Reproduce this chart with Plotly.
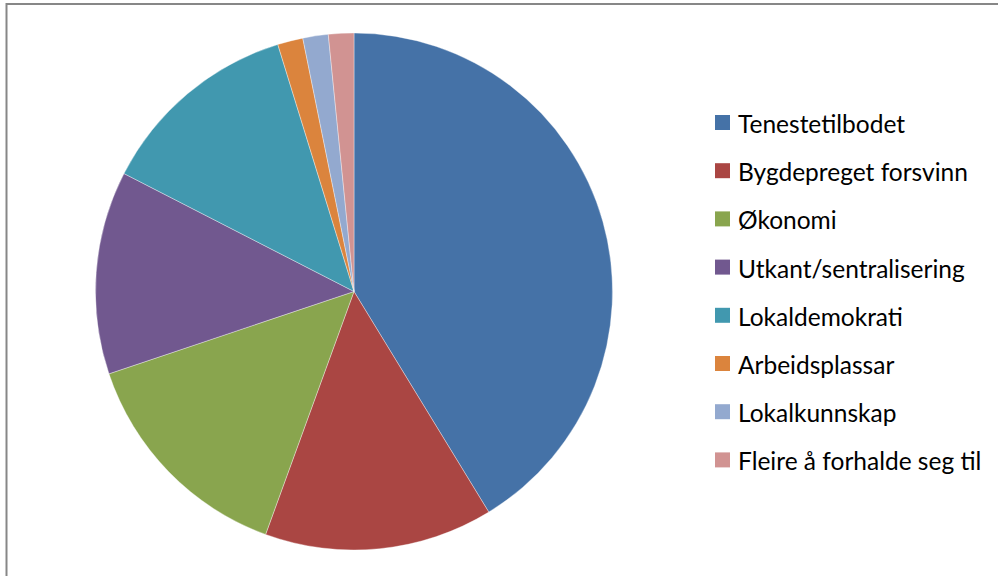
import plotly.graph_objects as go

labels = ["Tenestetilbodet", "Bygdepreget forsvinn", "Økonomi", "Utkant/sentralisering",
          "Lokaldemokrati", "Arbeidsplassar", "Lokalkunnskap", "Fleire å forhalde seg til"]
values = [26, 9, 9, 8, 8, 1, 1, 1]
colors = ["#4572A7", "#AA4643", "#89A54E", "#71588F", "#4198AF", "#DB843D", "#93A9CF", "#D19392"]

W, H = 998, 576
cx, cy, r = 354, 291.5, 258.5

fig = go.Figure(go.Pie(
    labels=labels, values=values, sort=False, direction="clockwise", rotation=0,
    marker=dict(colors=colors, line=dict(color="rgba(255,255,255,0.6)", width=0.6)),
    textinfo="none", hoverinfo="label+value+percent", showlegend=False,
    domain=dict(x=[(cx - r) / W, (cx + r) / W], y=[(H - cy - r) / H, (H - cy + r) / H]),
))

shapes = [dict(type="rect", xref="paper", yref="paper", x0=6.5 / W, x1=1.02, y0=-0.02, y1=1 - 4 / H,
               line=dict(color="#878787", width=2), fillcolor="rgba(0,0,0,0)", layer="above")]
annotations = []
row0, step = 122.5, 48.2
for i, (lab, col) in enumerate(zip(labels, colors)):
    yc = row0 + i * step
    shapes.append(dict(type="rect", xref="paper", yref="paper",
                       x0=715 / W, x1=730 / W, y0=1 - (yc + 7.5) / H, y1=1 - (yc - 7.5) / H,
                       fillcolor=col, line=dict(width=0)))
    annotations.append(dict(x=736 / W, y=1 - (yc + 1) / H, xref="paper", yref="paper", text=lab,
                            showarrow=False, xanchor="left", yanchor="middle",
                            font=dict(family="Lato", size=24.5, color="#000000")))

fig.update_layout(width=W, height=H, margin=dict(l=0, r=0, t=0, b=0),
                  paper_bgcolor="white", plot_bgcolor="white",
                  shapes=shapes, annotations=annotations)
fig.write_html("out.html", config={"displayModeBar": False},
               post_script="document.body.style.margin='0';document.body.style.padding='0';")
